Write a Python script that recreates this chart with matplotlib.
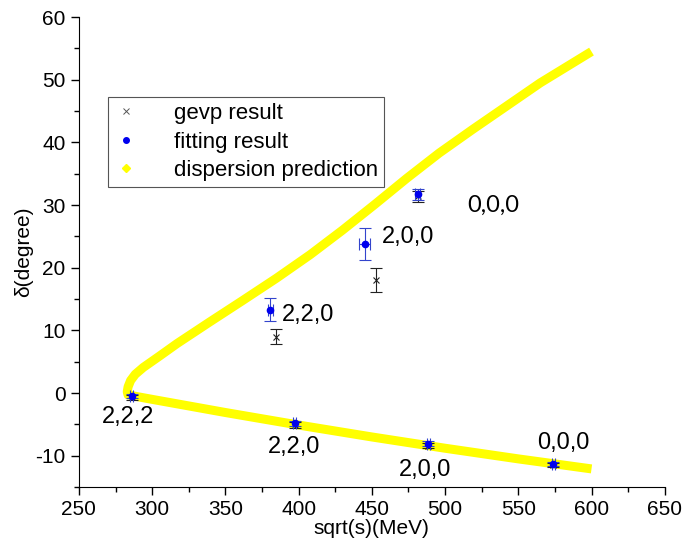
import numpy as np
import matplotlib.pyplot as plt
from matplotlib.lines import Line2D
from matplotlib.ticker import MultipleLocator

plt.rcParams['font.family'] = ['Liberation Sans', 'DejaVu Sans']
plt.rcParams['axes.unicode_minus'] = False

# dispersion prediction curve (lower branch -> turning point -> upper branch)
disp_x = [600, 550, 500, 450, 400, 350, 300, 283.6, 283.0, 283.6, 285.3, 288.5, 294, 305,
          317, 339, 362, 385, 408, 430, 452, 474, 496, 519, 542, 565, 600]
disp_y = [-12.1, -10.5, -8.8, -7.0, -5.1, -3.1, -1.0, -0.3, 0.2, 1.0, 2.0, 3.0, 4.1, 5.9,
          7.9, 11.3, 14.8, 18.35, 22.1, 26.0, 30.1, 34.3, 38.3, 42.1, 45.8, 49.5, 54.5]

# gevp result
gevp_x = [384.5, 452.7, 481.2, 286.0, 397.4, 488.4, 573.8]
gevp_y = [9.0, 18.0, 31.4, -0.7, -5.1, -8.4, -11.5]
gevp_err = [1.2, 1.9, 0.9, 0.4, 0.5, 0.4, 0.3]

# fitting result
fit_x = [380.8, 445.2, 481.2, 286.0, 397.4, 488.4, 573.8]
fit_y = [13.3, 23.8, 31.7, -0.5, -4.8, -8.1, -11.3]
fit_yerr = [1.8, 2.5, 0.9, 0.3, 0.4, 0.4, 0.3]
fit_xerr = [1.5, 3.9, 1.5, 1.0, 1.0, 1.0, 1.0]

# momentum labels
lab_text = ['0,0,0', '2,0,0', '2,2,0', '2,2,2', '2,2,0', '2,0,0', '0,0,0']
lab_x = [515.5, 456.8, 388.6, 265.7, 379.0, 468.4, 562.6]
lab_y = [30.0, 24.9, 12.4, -3.8, -8.6, -12.3, -8.0]

fig = plt.figure(figsize=(6.86, 5.51), dpi=100)
ax = fig.add_axes([0.115, 0.116, 0.854, 0.853])

ax.plot(disp_x, disp_y, color='#ffff00', lw=6.5, solid_joinstyle='round',
        solid_capstyle='butt', zorder=1)

ax.errorbar(gevp_x, gevp_y, yerr=gevp_err, fmt='x', color='#222222', ms=5, mew=0.8,
            elinewidth=0.8, capsize=4, capthick=0.8, zorder=3)
ax.errorbar(fit_x, fit_y, yerr=fit_yerr, xerr=fit_xerr, fmt='o', color='#0000ee',
            ecolor='#3344cc', ms=4.5, elinewidth=0.8, capsize=4, capthick=0.8, zorder=4)

for i, t in enumerate(lab_text):
    fam = ['Lato', 'DejaVu Sans'] if i == 0 else ['Liberation Sans', 'DejaVu Sans']
    ax.text(lab_x[i], lab_y[i], t, fontsize=17, ha='left', va='center', family=fam)

ax.set_xlim(250, 650)
ax.set_ylim(-15, 60)
ax.xaxis.set_major_locator(MultipleLocator(50))
ax.xaxis.set_minor_locator(MultipleLocator(25))
ax.yaxis.set_major_locator(MultipleLocator(10))
ax.yaxis.set_minor_locator(MultipleLocator(5))
ax.tick_params(which='major', direction='out', length=6, width=1, labelsize=15)
ax.tick_params(which='minor', direction='out', length=3.5, width=1)
for s in ['top', 'right']:
    ax.spines[s].set_visible(False)
ax.set_xlabel('sqrt(s)(MeV)', fontsize=15, labelpad=0)
ax.set_ylabel('δ(degree)', fontsize=15, labelpad=2)

handles = [
    Line2D([], [], ls='none', marker='x', color='#555555', ms=4, mew=0.7),
    Line2D([], [], ls='none', marker='o', color='#0000ee', ms=4),
    Line2D([], [], ls='none', marker='D', color='#ffff00', ms=4),
]
leg = ax.legend(handles, ['gevp result', 'fitting result', 'dispersion prediction'],
                loc='upper left', bbox_to_anchor=(0.0495, 0.83), borderaxespad=0,
                fontsize=16, fancybox=False, framealpha=1, edgecolor='#555555',
                handletextpad=1.6, borderpad=0.28, labelspacing=0.33, handlelength=1.1)
leg.get_frame().set_linewidth(0.8)

fig.savefig('out.png', dpi=100)
